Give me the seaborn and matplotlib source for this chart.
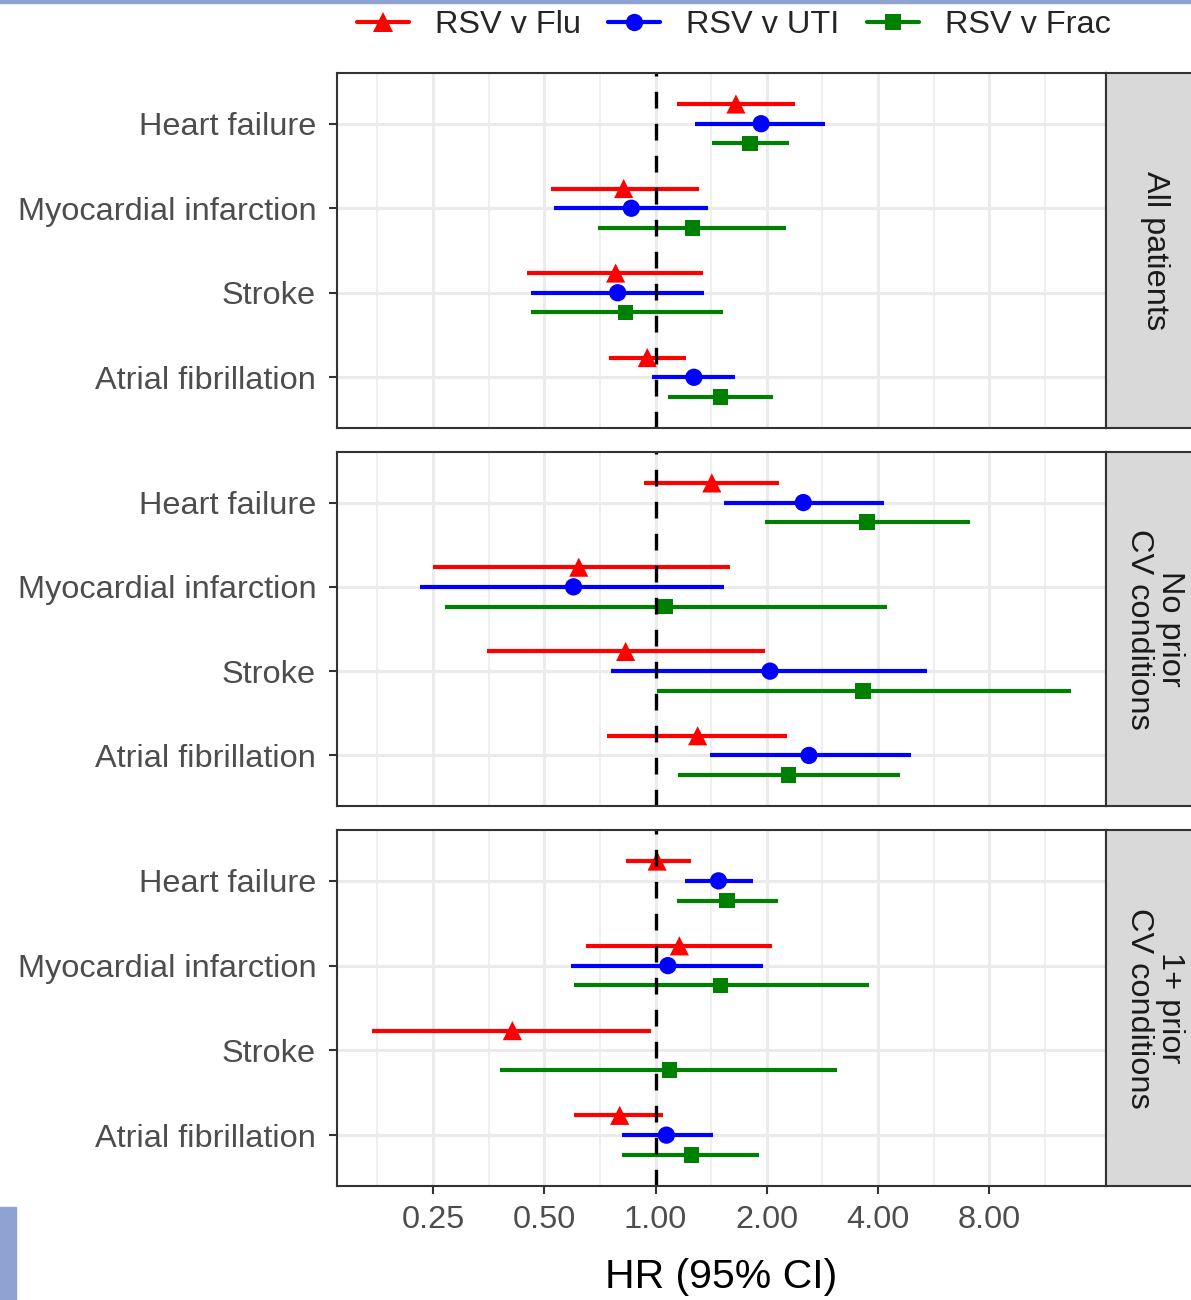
import numpy as np
import pandas as pd
import matplotlib
matplotlib.use("Agg")
import matplotlib.pyplot as plt
import seaborn as sns
from matplotlib.lines import Line2D
from matplotlib.patches import Rectangle
from matplotlib.ticker import FixedLocator, FixedFormatter, NullFormatter

nan = np.nan

panels = ["All patients", "No prior\nCV conditions", "1+ prior\nCV conditions"]
outcomes = ["Heart failure", "Myocardial infarction", "Stroke", "Atrial fibrillation"]
comparisons = ["RSV v Flu", "RSV v UTI", "RSV v Frac"]

# values per panel (rows) and outcome (columns)
hr_flu = [[1.65, 0.82, 0.78, 0.95], [1.42, 0.62, 0.83, 1.30], [1.01, 1.16, 0.41, 0.80]]
lo_flu = [[1.14, 0.52, 0.45, 0.75], [0.93, 0.25, 0.35, 0.74], [0.83, 0.65, 0.171, 0.60]]
hi_flu = [[2.38, 1.31, 1.34, 1.21], [2.16, 1.59, 1.98, 2.27], [1.25, 2.07, 0.975, 1.05]]

hr_uti = [[1.93, 0.86, 0.79, 1.27], [2.51, 0.60, 2.04, 2.60], [1.48, 1.08, nan, 1.07]]
lo_uti = [[1.28, 0.53, 0.46, 0.98], [1.53, 0.23, 0.76, 1.40], [1.20, 0.59, nan, 0.81]]
hi_uti = [[2.88, 1.39, 1.35, 1.64], [4.14, 1.53, 5.44, 4.91], [1.84, 1.95, nan, 1.43]]

hr_frac = [[1.80, 1.26, 0.83, 1.50], [3.73, 1.06, 3.64, 2.29], [1.56, 1.50, 1.09, 1.25]]
lo_frac = [[1.42, 0.70, 0.46, 1.08], [1.98, 0.27, 1.01, 1.15], [1.145, 0.60, 0.38, 0.81]]
hi_frac = [[2.30, 2.26, 1.52, 2.08], [7.10, 4.22, 13.3, 4.58], [2.14, 3.77, 3.09, 1.91]]

x_breaks = [0.25, 0.5, 1, 2, 4, 8]
x_labels = ["0.25", "0.50", "1.00", "2.00", "4.00", "8.00"]

# ---- build long table
series = {
    "RSV v Flu": (hr_flu, lo_flu, hi_flu),
    "RSV v UTI": (hr_uti, lo_uti, hi_uti),
    "RSV v Frac": (hr_frac, lo_frac, hi_frac),
}
rows = []
for comp, (h, l, u) in series.items():
    for pi, pan in enumerate(panels):
        for oi, out in enumerate(outcomes):
            rows.append(dict(panel=pan, outcome=out, comparison=comp,
                             hr=h[pi][oi], lo=l[pi][oi], hi=u[pi][oi]))
df = pd.DataFrame(rows)
dodge = 0.7
offsets = {c: (i - 1) * dodge / 3 for i, c in enumerate(comparisons)}
df["ypos"] = df["outcome"].map({o: i for i, o in enumerate(outcomes)}) + df["comparison"].map(offsets)

colors = {"RSV v Flu": "#FF0000", "RSV v UTI": "#0000FF", "RSV v Frac": "#008000"}
markers = {"RSV v Flu": "^", "RSV v UTI": "o", "RSV v Frac": "s"}
msizes = {"RSV v Flu": 190, "RSV v UTI": 155, "RSV v Frac": 125}

sns.set_theme(style="white")
plt.rcParams["font.family"] = ["Liberation Sans", "DejaVu Sans"]

W, H = 1191, 1300
fig = plt.figure(figsize=(W / 100, H / 100), dpi=100)

# x limits: log2 range of data expanded by 5%
lmin = np.log2(np.nanmin(df["lo"]))
lmax = np.log2(np.nanmax(df["hi"]))
span = lmax - lmin
xlim = (2 ** (lmin - 0.05 * span), 2 ** (lmax + 0.05 * span))
minor_breaks = [2 ** (k + 0.5) for k in range(-4, 5)]

panel_px = [(73, 428), (452, 806), (830, 1186)]
left_px, right_px = 337, 1106
strip_right_px = 1203

grey20 = "#333333"
grey30 = "#4D4D4D"
grid_c = "#EBEBEB"
tsize = 23.4

for pi, pan in enumerate(panels):
    top, bot = panel_px[pi]
    ax = fig.add_axes([left_px / W, 1 - bot / H, (right_px - left_px) / W, (bot - top) / H])
    sub = df[df["panel"] == pan].dropna(subset=["hr"])
    ax.set_xscale("log", base=2)
    # CIs
    for comp in comparisons:
        s = sub[sub["comparison"] == comp]
        ax.hlines(s["ypos"], s["lo"], s["hi"], colors=colors[comp], lw=3.0, zorder=2)
    sns.scatterplot(data=sub, x="hr", y="ypos", hue="comparison", style="comparison",
                    size="comparison", sizes=msizes, markers=markers, palette=colors,
                    hue_order=comparisons, style_order=comparisons, size_order=comparisons,
                    edgecolor="none", linewidth=0, legend=False, ax=ax, zorder=3)
    ax.axvline(1, color="black", lw=2.4, linestyle=(0, (5.0, 4.6)), zorder=4)

    ax.set_xlim(*xlim)
    ax.set_ylim(3.6, -0.6)
    ax.xaxis.set_major_locator(FixedLocator(x_breaks))
    ax.xaxis.set_minor_locator(FixedLocator(minor_breaks))
    ax.xaxis.set_minor_formatter(NullFormatter())
    if pi == 2:
        ax.xaxis.set_major_formatter(FixedFormatter(x_labels))
        ax.tick_params(axis="x", which="major", length=6, width=1.5, color=grey20,
                       labelsize=tsize, labelcolor=grey30, pad=7.5, bottom=True)
        ax.set_xlabel("HR (95% CI)", fontsize=29.5, color="black", labelpad=17)
    else:
        ax.xaxis.set_major_formatter(NullFormatter())
        ax.tick_params(axis="x", which="major", length=0)
        ax.set_xlabel("")
    ax.tick_params(axis="x", which="minor", length=0)
    ax.set_yticks(range(len(outcomes)))
    ax.set_yticklabels(outcomes)
    ax.tick_params(axis="y", length=6, width=1.5, color=grey20, labelsize=tsize,
                   labelcolor=grey30, pad=9, left=True)
    ax.set_ylabel("")
    ax.grid(which="major", axis="both", color=grid_c, lw=2.2)
    ax.grid(which="minor", axis="x", color=grid_c, lw=1.1)
    ax.set_axisbelow(True)
    for sp in ax.spines.values():
        sp.set_color(grey20)
        sp.set_linewidth(1.5)
        sp.set_zorder(5)

    # strip
    sax = fig.add_axes([right_px / W, 1 - bot / H, (strip_right_px - right_px) / W, (bot - top) / H])
    sax.set_facecolor("#D9D9D9")
    sax.set_xticks([])
    sax.set_yticks([])
    for sp in sax.spines.values():
        sp.set_color(grey20)
        sp.set_linewidth(1.5)
    sax.text(0.5, 0.5, pan, rotation=-90, ha="center", va="center", fontsize=tsize,
             color="#1A1A1A", transform=sax.transAxes, linespacing=1.05,
             multialignment="center")

# legend
handles = [Line2D([0], [0], color=colors[c], lw=3.0, marker=markers[c],
                  markersize=np.sqrt(msizes[c]), markeredgewidth=0) for c in comparisons]
fig.legend(handles, comparisons, loc="center", bbox_to_anchor=(734 / W, 1 - 25 / H),
           ncol=3, frameon=False, fontsize=tsize, handlelength=1.6, handletextpad=0.8,
           columnspacing=0.85, borderaxespad=0)

# screenshot frame remnants
fig.patches.append(Rectangle((0, 1 - 3 / H), 1, 3 / H, transform=fig.transFigure,
                             color="#8EA3D1", zorder=10))
fig.patches.append(Rectangle((0, 0), 16 / W, 93 / H, transform=fig.transFigure,
                             color="#8EA3D1", zorder=10))

fig.savefig("out.png", dpi=100)
